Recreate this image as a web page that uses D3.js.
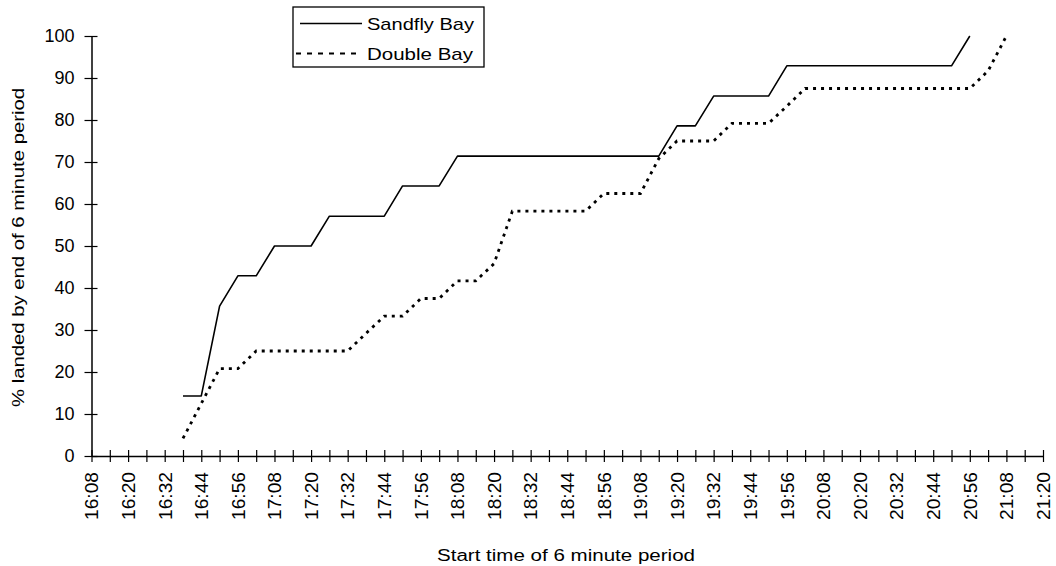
<!DOCTYPE html>
<html lang="en">
<head>
    <meta charset="UTF-8">
    <title>Landing times</title>
    <style>
        body { margin: 0; background: #fff; }
        text { font-family: "Liberation Sans", Arial, Helvetica, sans-serif; fill: #000; }
    </style>
</head>
<body>
<svg id="chart" width="1056" height="566"></svg>
<script src="https://d3js.org/d3.v7.min.js"></script>

<script>

    // start time of each 6 minute period (one tick per period)
    var periods = [
        "16:08", "16:14", "16:20", "16:26", "16:32", "16:38", "16:44", "16:50", "16:56", "17:02",
        "17:08", "17:14", "17:20", "17:26", "17:32", "17:38", "17:44", "17:50", "17:56", "18:02",
        "18:08", "18:14", "18:20", "18:26", "18:32", "18:38", "18:44", "18:50", "18:56", "19:02",
        "19:08", "19:14", "19:20", "19:26", "19:32", "19:38", "19:44", "19:50", "19:56", "20:02",
        "20:08", "20:14", "20:20", "20:26", "20:32", "20:38", "20:44", "20:50", "20:56", "21:02",
        "21:08", "21:14", "21:20"
    ];

    // only every other period gets a label
    var tickLabels = [
        "16:08", "16:20", "16:32", "16:44", "16:56", "17:08", "17:20", "17:32", "17:44",
        "17:56", "18:08", "18:20", "18:32", "18:44", "18:56", "19:08", "19:20", "19:32",
        "19:44", "19:56", "20:08", "20:20", "20:32", "20:44", "20:56", "21:08", "21:20"
    ];

    var yTicks = [0, 10, 20, 30, 40, 50, 60, 70, 80, 90, 100];

    var seriesNames = ["Sandfly Bay", "Double Bay"];

    // % landed by the end of each period (null = no data)
    var sandfly = [
        null, null, null, null, null, 14.3, 14.3, 35.7, 42.9, 42.9,
        50, 50, 50, 57.1, 57.1, 57.1, 57.1, 64.3, 64.3, 64.3,
        71.4, 71.4, 71.4, 71.4, 71.4, 71.4, 71.4, 71.4, 71.4, 71.4,
        71.4, 71.4, 78.6, 78.6, 85.7, 85.7, 85.7, 85.7, 92.9, 92.9,
        92.9, 92.9, 92.9, 92.9, 92.9, 92.9, 92.9, 92.9, 100, null,
        null, null, null
    ];

    var doubleBay = [
        null, null, null, null, null, 4.2, 12.5, 20.8, 20.8, 25,
        25, 25, 25, 25, 25, 29.2, 33.3, 33.3, 37.5, 37.5,
        41.7, 41.7, 45.8, 58.3, 58.3, 58.3, 58.3, 58.3, 62.5, 62.5,
        62.5, 70.8, 75, 75, 75, 79.2, 79.2, 79.2, 83.3, 87.5,
        87.5, 87.5, 87.5, 87.5, 87.5, 87.5, 87.5, 87.5, 87.5, 91.7,
        100, null, null
    ];

    var svg = d3.select("#chart"),
        plotLeft = 91.5,
        plotRight = 1043,
        plotTop = 36,
        plotBottom = 456,
        x = d3.scalePoint().domain(periods).range([plotLeft, plotRight]),
        y = d3.scaleLinear().domain([0, 100]).range([plotBottom, plotTop]);

    // y axis
    var yAxis = svg.append("g")
        .attr("transform", "translate(" + plotLeft + ",0)")
        .call(d3.axisLeft(y).tickValues(yTicks).tickSize(7).tickSizeOuter(0).tickPadding(10));

    yAxis.select(".domain").attr("stroke", "#000").attr("stroke-width", 1.5);
    yAxis.selectAll(".tick line").attr("x1", -7).attr("x2", 6).attr("stroke-width", 1.2);
    yAxis.selectAll(".tick text")
        .style("font-size", "18px")
        .style("font-family", "'Liberation Sans', Arial, sans-serif");

    // x axis, ticks cross the line
    var xAxis = svg.append("g")
        .attr("transform", "translate(0," + plotBottom + ")")
        .call(d3.axisBottom(x).tickSize(6).tickSizeOuter(0)
            .tickFormat(function (d) {
                return tickLabels.indexOf(d) >= 0 ? d : "";
            }));

    xAxis.select(".domain").attr("stroke", "#000").attr("stroke-width", 1.5);
    xAxis.selectAll(".tick line").attr("y1", -6).attr("y2", 6).attr("stroke-width", 1.2);
    xAxis.selectAll(".tick text")
        .filter(function (d) { return tickLabels.indexOf(d) >= 0; })
        .attr("x", 0)
        .attr("y", 0)
        .attr("dy", "0.35em")
        .attr("text-anchor", "end")
        .attr("textLength", 48)
        .attr("lengthAdjust", "spacingAndGlyphs")
        .attr("transform", "translate(0,16) rotate(-90)")
        .style("font-size", "18px")
        .style("font-family", "'Liberation Sans', Arial, sans-serif");

    // axis titles
    svg.append("text")
        .attr("x", 566)
        .attr("y", 561)
        .attr("text-anchor", "middle")
        .attr("textLength", 258)
        .attr("lengthAdjust", "spacingAndGlyphs")
        .style("font-size", "16px")
        .text("Start time of 6 minute period");

    svg.append("text")
        .attr("transform", "translate(18,247.5) rotate(-90)")
        .attr("dy", "0.35em")
        .attr("text-anchor", "middle")
        .attr("textLength", 319)
        .attr("lengthAdjust", "spacingAndGlyphs")
        .style("font-size", "16px")
        .text("% landed by end of 6 minute period");

    // lines
    var line = d3.line()
        .defined(function (d) { return d !== null; })
        .x(function (d, i) { return x(periods[i]); })
        .y(function (d) { return y(d); });

    svg.append("path")
        .datum(sandfly)
        .attr("fill", "none")
        .attr("stroke", "#000")
        .attr("stroke-width", 1.6)
        .attr("stroke-linejoin", "round")
        .attr("d", line);

    svg.append("path")
        .datum(doubleBay)
        .attr("fill", "none")
        .attr("stroke", "#000")
        .attr("stroke-width", 2.8)
        .attr("stroke-dasharray", "3,5")
        .attr("d", line);

    // legend
    var legend = svg.append("g");

    legend.append("rect")
        .attr("x", 293)
        .attr("y", 7)
        .attr("width", 191)
        .attr("height", 60)
        .attr("fill", "#fff")
        .attr("stroke", "#000")
        .attr("stroke-width", 1.3);

    legend.append("line")
        .attr("x1", 300).attr("x2", 362)
        .attr("y1", 23.5).attr("y2", 23.5)
        .attr("stroke", "#000")
        .attr("stroke-width", 1.4);

    legend.append("line")
        .attr("x1", 296).attr("x2", 362)
        .attr("y1", 53.5).attr("y2", 53.5)
        .attr("stroke", "#000")
        .attr("stroke-width", 2.2)
        .attr("stroke-dasharray", "5,6");

    legend.selectAll(".label")
        .data(seriesNames)
        .enter().append("text")
        .attr("class", "label")
        .attr("x", 367)
        .attr("y", function (d, i) { return 30 + i * 30; })
        .attr("textLength", function (d, i) { return i === 0 ? 107 : 106; })
        .attr("lengthAdjust", "spacingAndGlyphs")
        .style("font-size", "17px")
        .text(function (d) { return d; });

</script>

</body>
</html>
